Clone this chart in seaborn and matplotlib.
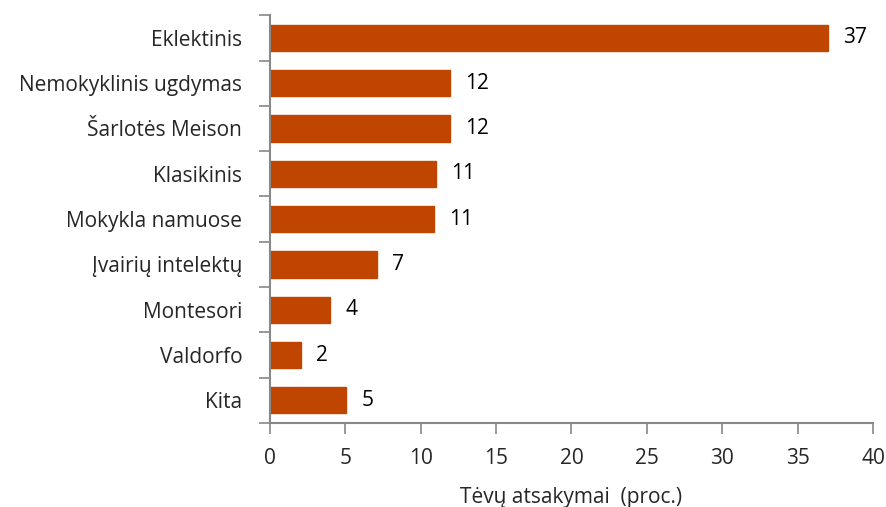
import matplotlib
matplotlib.use("Agg")
import matplotlib.pyplot as plt
import seaborn as sns
import pandas as pd

categories = ["Eklektinis", "Nemokyklinis ugdymas", "Šarlotės Meison", "Klasikinis",
              "Mokykla namuose", "Įvairių intelektų", "Montesori", "Valdorfo", "Kita"]
values = [37.0, 11.95, 11.95, 11.0, 10.9, 7.1, 4.0, 2.05, 5.05]
labels = ["37", "12", "12", "11", "11", "7", "4", "2", "5"]
xticks = [0, 5, 10, 15, 20, 25, 30, 35, 40]

sns.set_theme(style="white")
plt.rcParams['font.family'] = ['Open Sans', 'DejaVu Sans']
FS = 15

df = pd.DataFrame({"cat": categories, "val": values})
fig = plt.figure(figsize=(8.86, 5.07), dpi=100)
ax = fig.add_axes([0.3047, 0.1657, 0.6806, 0.8043])
sns.barplot(data=df, y="cat", x="val", color="#C04600", saturation=1, width=0.58,
            orient="h", ax=ax, edgecolor="#C04600")
for p, lab in zip(ax.patches, labels):
    ax.text(p.get_width() + 1.0, p.get_y() + p.get_height() / 2, lab,
            va="center", ha="left", fontsize=FS, color="black")

ax.set_xlim(0, 40)
ax.set_xticks(xticks)
ax.set_xticklabels([str(t) for t in xticks])
ax.set_ylim(len(categories) - 0.5, -0.5)
ax.set_yticks([i + 0.5 for i in range(-1, len(categories))], minor=True)
ax.set_yticks(range(len(categories)))
ax.tick_params(axis="y", which="major", length=0, labelsize=FS, pad=20)
ax.tick_params(axis="y", which="minor", length=8, width=1.2, color="#888888", direction="out", left=True)
ax.tick_params(axis="x", length=8, width=1.2, color="#888888", direction="out", bottom=True, labelsize=FS, pad=10)
ax.set_ylabel("")
ax.set_xlabel("Tėvų atsakymai  (proc.)", fontsize=FS, labelpad=13)
for s in ["top", "right"]:
    ax.spines[s].set_visible(False)
for s in ["left", "bottom"]:
    ax.spines[s].set_color("#888888")
    ax.spines[s].set_linewidth(1.5)
fig.savefig("out.png", dpi=100)
